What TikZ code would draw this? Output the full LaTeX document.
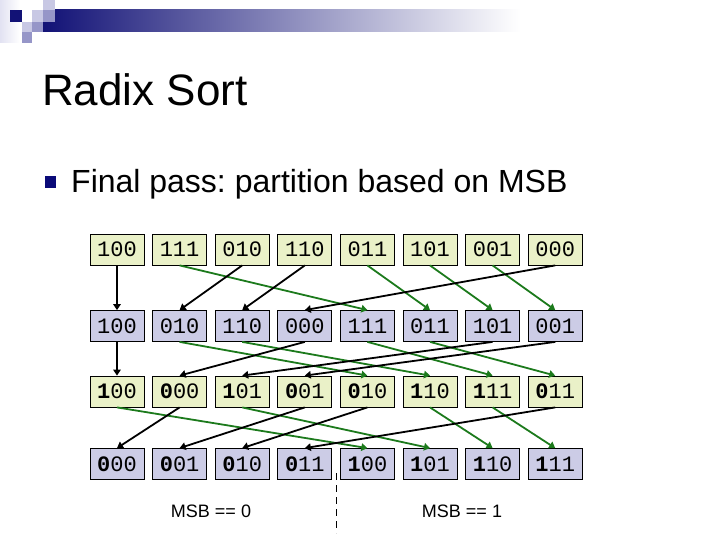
\documentclass[tikz,border=0pt]{standalone}
\usepackage{fontspec}
\setmainfont{Liberation Sans}
\setmonofont{Liberation Mono}
\usetikzlibrary{arrows.meta}
\frenchspacing
\definecolor{navy}{RGB}{18,18,118}
\definecolor{sqlight}{RGB}{200,200,228}
\definecolor{sqmed}{RGB}{150,150,200}
\definecolor{sqpale}{RGB}{226,226,242}
\definecolor{cellyel}{RGB}{234,241,200}
\definecolor{celllav}{RGB}{204,204,230}
\definecolor{arrgreen}{RGB}{28,122,28}
\definecolor{bulletblue}{RGB}{10,10,120}
\tikzset{
  cell/.style={draw=black, line width=0.8pt, minimum width=54pt, minimum height=31pt,
    inner sep=0pt, font=\fontsize{22}{22}\selectfont\ttfamily},
  yel/.style={cell, fill=cellyel},
  lav/.style={cell, fill=celllav},
  zero/.style={-{Triangle[length=6pt,width=7.5pt]}, line width=1.8pt, draw=black},
  one/.style={-{Triangle[length=6pt,width=7.5pt]}, line width=1.8pt, draw=arrgreen, fill=arrgreen},
  lbl/.style={inner sep=0pt, font=\fontsize{18}{18}\selectfont}
}
\begin{document}
\begin{tikzpicture}[x=1pt,y=-1pt]
\useasboundingbox (0,0) rectangle (720,540);
% header decoration
\shade[left color=sqpale, right color=white] (0,0) rectangle (20,43);
\shade[left color=navy, right color=white] (43,10) rectangle (520,32);
\fill[navy] (10,10) rectangle (22,22);
\fill[sqlight] (32,10) rectangle (43,22);
\fill[sqlight] (43,0) rectangle (55,10);
\fill[sqmed] (43,10) rectangle (55,22);
\fill[sqlight] (22,22) rectangle (32,32);
\fill[sqmed] (32,22) rectangle (43,32);
\fill[sqmed] (22,32) rectangle (32,43);
% title
\node[anchor=base west, inner sep=0pt, font=\fontsize{44}{44}\selectfont] (title) at (42,106) {Radix Sort};
\fill[bulletblue] (45,176) rectangle (56,188);
\node[anchor=base west, inner sep=0pt, font=\fontsize{32}{32}\selectfont] (bullet) at (71,193) {Final pass: partition based on MSB};
% rows
\foreach \t [count=\i] in {100,111,010,110,011,101,001,000}
  \node[yel] (a\i) at ({117+62.6*(\i-1)},249.5) {\t};
\foreach \t [count=\i] in {100,010,110,000,111,011,101,001}
  \node[lav] (b\i) at ({117+62.6*(\i-1)},326) {\t};
\foreach \f/\t [count=\i] in {1/00,0/00,1/01,0/01,0/10,1/10,1/11,0/11}
  \node[yel] (c\i) at ({117+62.6*(\i-1)},391.5) {\textbf{\f}\t};
\foreach \f/\t [count=\i] in {0/00,0/01,0/10,0/11,1/00,1/01,1/10,1/11}
  \node[lav] (d\i) at ({117+62.6*(\i-1)},464) {\textbf{\f}\t};
% arrows
\foreach \s/\d/\k in {1/1/zero,2/5/one,3/2/zero,4/3/zero,5/6/one,6/7/one,7/8/one,8/4/zero}
  \draw[\k] (a\s.south) -- (b\d.north);
\foreach \s/\d/\k in {1/1/zero,2/5/one,3/6/one,4/2/zero,5/7/one,6/8/one,7/3/zero,8/4/zero}
  \draw[\k] (b\s.south) -- (c\d.north);
\foreach \s/\d/\k in {1/5/one,2/1/zero,3/6/one,4/2/zero,5/3/zero,6/7/one,7/8/one,8/4/zero}
  \draw[\k] (c\s.south) -- (d\d.north);
% divider and labels
\coordinate (divtop) at (336,473);
\coordinate (divbot) at (336,533);
\draw[line width=1pt, dash pattern=on 7pt off 5pt] (divtop) -- (divbot);
\node[lbl] (msb0) at (211,511) {MSB == 0};
\node[lbl] (msb1) at (462,511) {MSB == 1};
\end{tikzpicture}
\end{document}
